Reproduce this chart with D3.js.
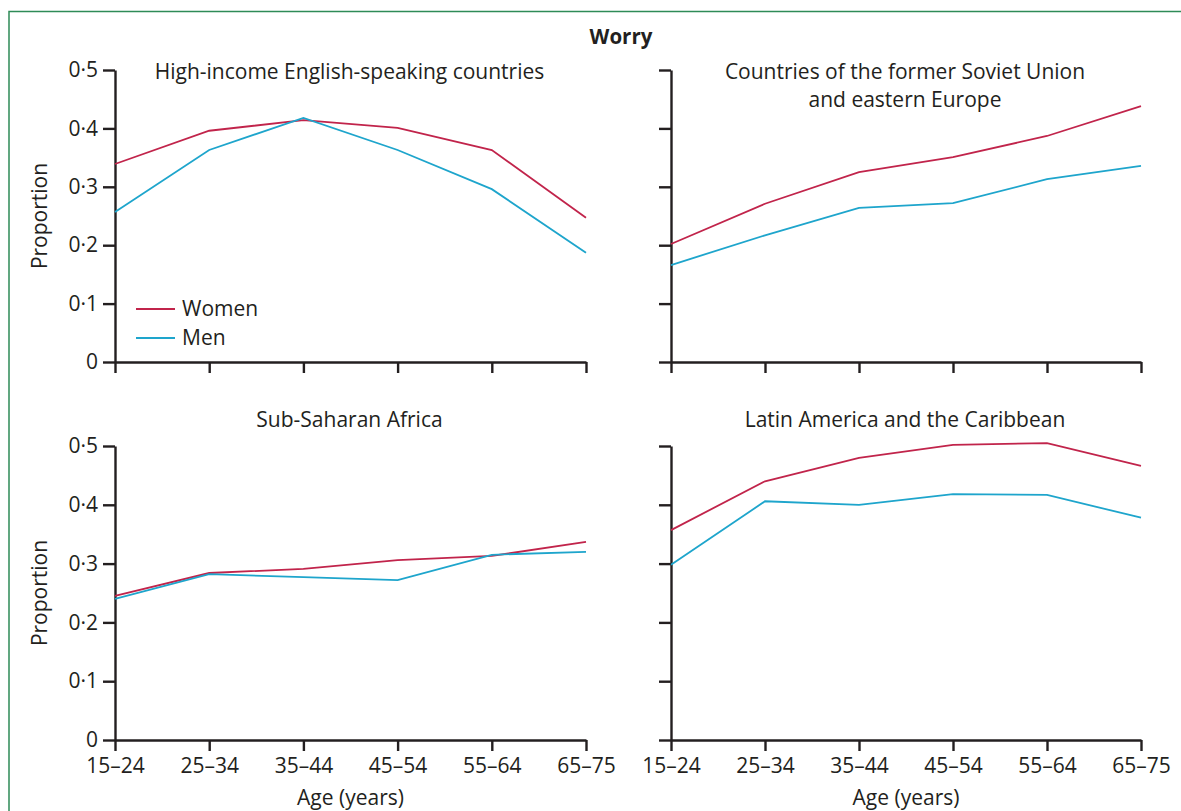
<!DOCTYPE html>
<html><head><meta charset="utf-8">
<script src="https://cdn.jsdelivr.net/npm/d3@7"></script>
<style>
body{margin:0;background:#fff;}
text{font-family:"Open Sans",sans-serif;fill:#231f20;}
</style></head>
<body><svg id="c" width="1181" height="811"></svg>
<script>
const ageGroups = ["15–24","25–34","35–44","45–54","55–64","65–75"];
const yTicks = [0,0.1,0.2,0.3,0.4,0.5];
const seriesNames = ["Women","Men"];
const seriesColors = ["#c1244b","#1ea5cc"];
const panelTitles = [
  ["High-income English-speaking countries"],
  ["Countries of the former Soviet Union","and eastern Europe"],
  ["Sub-Saharan Africa"],
  ["Latin America and the Caribbean"]
];
const hiEnglishWomen = [0.339,0.396,0.414,0.401,0.363,0.247];
const hiEnglishMen   = [0.257,0.363,0.418,0.363,0.296,0.187];
const sovietWomen    = [0.202,0.271,0.325,0.351,0.387,0.438];
const sovietMen      = [0.166,0.217,0.264,0.272,0.313,0.336];
const ssaWomen       = [0.245,0.284,0.291,0.306,0.313,0.337];
const ssaMen         = [0.240,0.282,0.277,0.272,0.315,0.320];
const latamWomen     = [0.357,0.440,0.480,0.502,0.505,0.466];
const latamMen       = [0.298,0.406,0.400,0.418,0.417,0.378];

const panelData = [
  [hiEnglishWomen,hiEnglishMen],
  [sovietWomen,sovietMen],
  [ssaWomen,ssaMen],
  [latamWomen,latamMen]
];

const svg = d3.select("#c");
svg.append("rect").attr("x",9).attr("y",11.5).attr("width",1200).attr("height",820)
  .attr("fill","none").attr("stroke","#2e8b57").attr("stroke-width",1.5);

svg.append("text").attr("x",621).attr("y",44).attr("text-anchor","middle")
  .style("font-weight","bold").style("font-size","20.5px").text("Worry");

const panels = [
  {x0:115,x1:586,y0:362,y1:70,ty:79,labelsY:true,labelsX:false},
  {x0:671,x1:1141,y0:362,y1:70,ty:79,labelsY:false,labelsX:false},
  {x0:115,x1:586,y0:740,y1:446,ty:427,labelsY:true,labelsX:true},
  {x0:671,x1:1141,y0:740,y1:446,ty:427,labelsY:false,labelsX:true}
];

const fmt = d => d===0 ? "0" : d3.format(".1f")(d).replace(".","·");
const FS = "21px";

panels.forEach((p,i)=>{
  const x = d3.scalePoint().domain(ageGroups).range([p.x0,p.x1]);
  const y = d3.scaleLinear().domain([0,0.5]).range([p.y0,p.y1]);
  const g = svg.append("g");

  const ya = g.append("g").attr("transform",`translate(${p.x0},0)`)
    .call(d3.axisLeft(y).tickValues(yTicks).tickSize(12).tickSizeOuter(0).tickPadding(5)
      .tickFormat(p.labelsY?fmt:""));
  const xa = g.append("g").attr("transform",`translate(0,${p.y0})`)
    .call(d3.axisBottom(x).tickSize(11).tickSizeOuter(0).tickPadding(7)
      .tickFormat(p.labelsX?(d=>d):""));
  [ya,xa].forEach(a=>{
    a.selectAll("path,line").attr("stroke","#231f20").attr("stroke-width",2.4);
    a.selectAll("text").style("font-size","21px").attr("fill","#231f20");
  });

  panelData[i].forEach((vals,s)=>{
    g.append("path").datum(vals)
      .attr("fill","none").attr("stroke",seriesColors[s]).attr("stroke-width",1.8)
      .attr("d",d3.line().x((d,k)=>x(ageGroups[k])).y(d=>y(d)));
  });

  const cx = (p.x0+p.x1)/2 - 1;
  panelTitles[i].forEach((t,k)=>{
    g.append("text").attr("x",cx).attr("y",p.ty+k*28).attr("text-anchor","middle")
      .style("font-size",FS).text(t);
  });

  if(p.labelsY){
    const my = (p.y0+p.y1)/2;
    g.append("text").attr("transform",`translate(47,${my}) rotate(-90)`)
      .attr("text-anchor","middle").style("font-size",FS).text("Proportion");
  }
  if(p.labelsX){
    g.append("text").attr("x",cx+1).attr("y",p.y0+65).attr("text-anchor","middle")
      .style("font-size",FS).text("Age (years)");
  }
});

seriesNames.forEach((n,s)=>{
  const ly = 309 + s*29;
  svg.append("line").attr("x1",136).attr("x2",175).attr("y1",ly).attr("y2",ly)
    .attr("stroke",seriesColors[s]).attr("stroke-width",2);
  svg.append("text").attr("x",182).attr("y",ly+7).style("font-size",FS).text(n);
});
</script></body></html>
